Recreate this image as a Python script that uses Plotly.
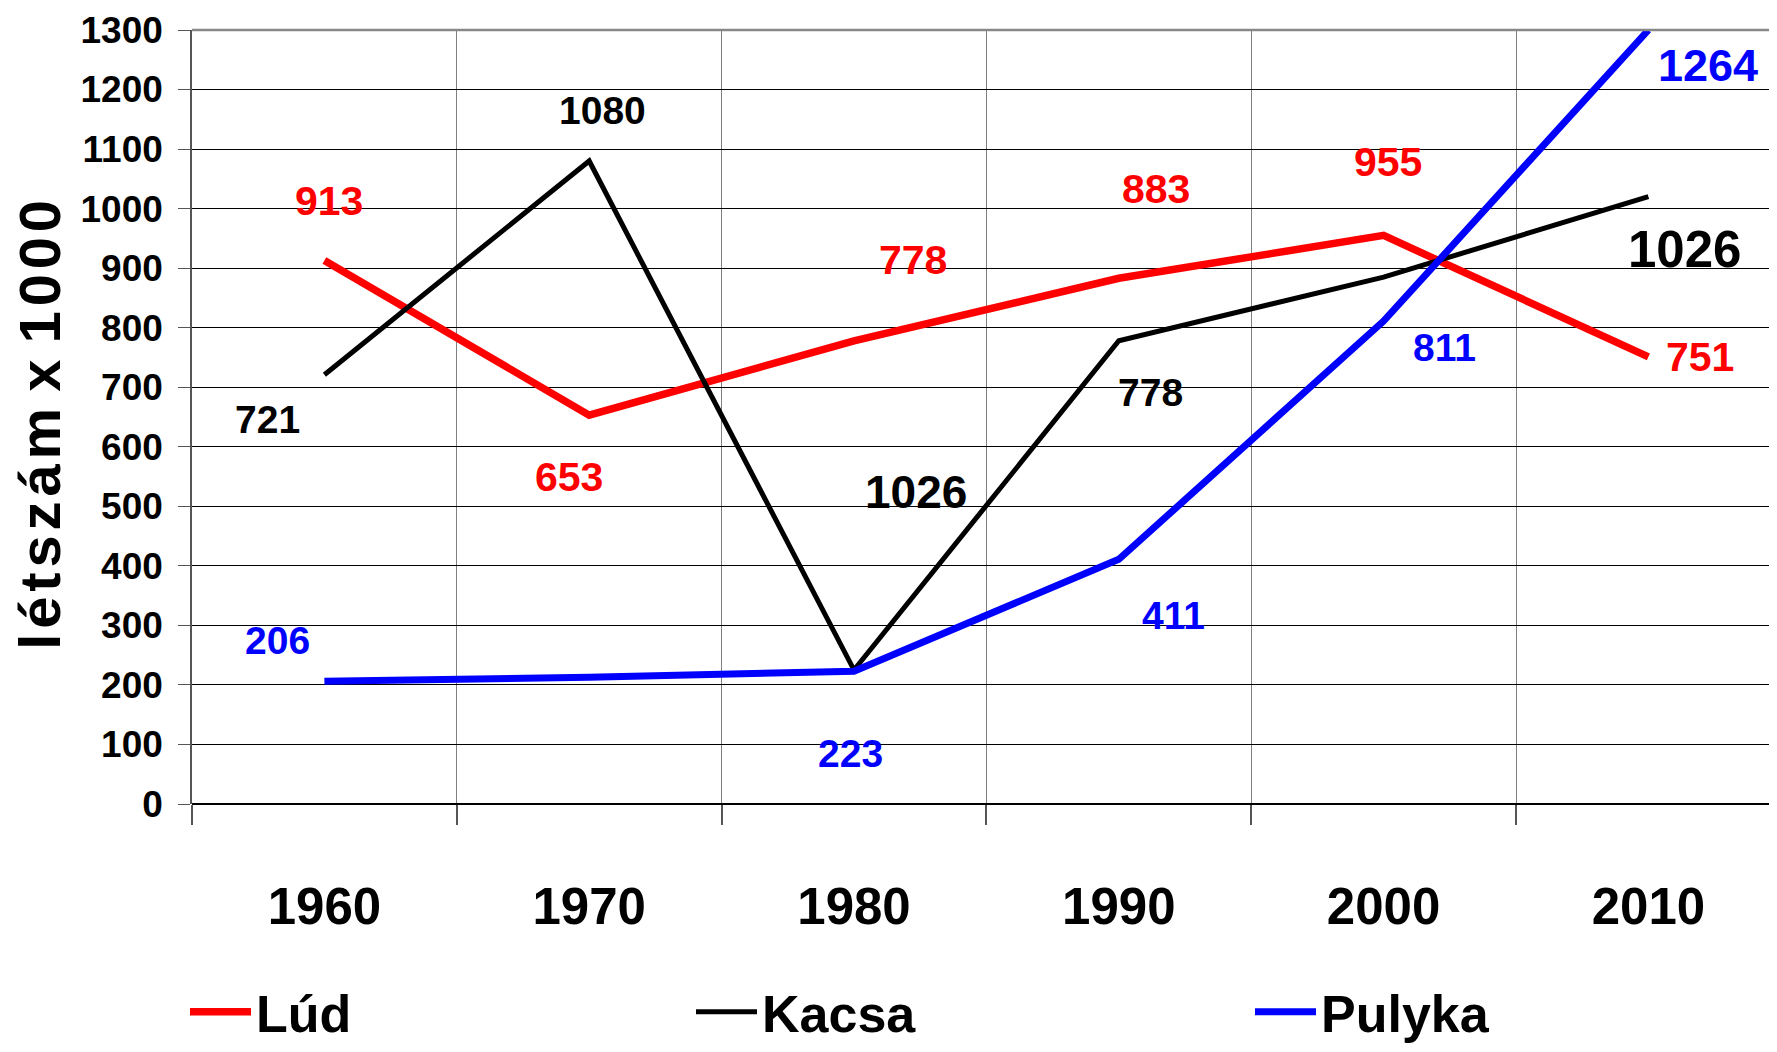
import plotly.graph_objects as go

years = ["1960", "1970", "1980", "1990", "2000", "2010"]
lud = [913, 653, 778, 883, 955, 751]
kacsa = [721, 1080, 225, 778, 885, 1020]
pulyka = [206, 213, 223, 411, 811, 1300]

lud_labels = ["913", "653", "778", "883", "955", "751"]
kacsa_labels = ["721", "1080", "1026", "778", None, "1026"]
pulyka_labels = ["206", None, "223", "411", "811", "1264"]

y_ticks = list(range(0, 1301, 100))

# label placement offsets in px (xshift, yshift) relative to their point
lud_off = [(5, 59), (-20, -62), (59, 81), (37, 89), (4, 73), (52, 0)]
kacsa_off = [(-57, -45), (13, 50), (62, 178), (32, -52), None, (36, -53)]
pulyka_off = [(-47, 41), None, (-4, -82), (55, -56), (61, -26), (60, -35)]

FONT = "Liberation Sans, Arial, sans-serif"

# page body has an 8px margin; size the figure so the plot lands where the reference has it
PAGE_PAD = 8
W, H = 1777 - PAGE_PAD, 1052 - PAGE_PAD
L, T = 192 - PAGE_PAD, 30 - PAGE_PAD
PH = 774
B = H - T - PH
xs = list(range(len(years)))

fig = go.Figure()
series = [
    ("Lúd", lud, "#ff0000", 7.5, "legend"),
    ("Kacsa", kacsa, "#000000", 5, "legend2"),
    ("Pulyka", pulyka, "#0000ff", 7, "legend3"),
]
for name, vals, col, w, lg in series:
    fig.add_trace(go.Scatter(x=xs, y=vals, mode="lines", name=name,
                             line=dict(color=col, width=w), legend=lg,
                             cliponaxis=False))

ann = []
def add_labels(vals, labels, offs, col, sizes):
    for i, (v, t, o) in enumerate(zip(vals, labels, offs)):
        if t is None:
            continue
        ann.append(dict(x=i, y=v, xref="x", yref="y", text=t,
                        showarrow=False, xshift=o[0], yshift=o[1],
                        font=dict(color=col, size=sizes[i], family=FONT, weight="bold")))

add_labels(lud, lud_labels, lud_off, "#ff0000", [41] * 6)
add_labels(pulyka, pulyka_labels, pulyka_off, "#0000ff", [39, 39, 39, 39, 39, 45])
add_labels(kacsa, kacsa_labels, kacsa_off, "#000000", [39, 39, 46, 39, 39, 51])

pw = W - L
ann.append(dict(xref="paper", yref="paper", x=(40 - 192) / pw, y=0.49,
                xanchor="center", yanchor="middle",
                text="l\u200aé\u200at\u200as\u200az\u200aá\u200am x 1\u200a0\u200a0\u200a0",
                textangle=-90, showarrow=False,
                font=dict(size=58, family=FONT, color="#000", weight="bold")))

cat_w = 264.8
span = pw / cat_w

legend_common = dict(orientation="h", yanchor="middle", xanchor="left",
                     xref="container", yref="container",
                     font=dict(size=52, family=FONT, color="#000", weight="bold"),
                     bgcolor="rgba(0,0,0,0)", itemwidth=61)
ly = 1 - (1012 - PAGE_PAD) / H

fig.update_layout(
    width=W, height=H, autosize=False,
    margin=dict(l=L, r=0, t=T, b=B, autoexpand=False),
    paper_bgcolor="white", plot_bgcolor="white",
    showlegend=True,
    legend=dict(legend_common, x=(185 - PAGE_PAD) / W, y=ly),
    legend2=dict(legend_common, x=(691 - PAGE_PAD) / W, y=ly),
    legend3=dict(legend_common, x=(1250 - PAGE_PAD) / W, y=ly),
    annotations=ann,
    xaxis=dict(range=[-0.5, -0.5 + span], tickvals=xs, ticktext=years,
               showgrid=False, zeroline=False, ticks="", automargin=False,
               tickfont=dict(size=51, family=FONT, color="#000", weight="bold"),
               ticklabelstandoff=68,
               showline=False,
               minor=dict(tickvals=[i - 0.5 for i in range(len(years))],
                          showgrid=True, gridcolor="#808080", gridwidth=1,
                          ticks="outside", ticklen=20, tickcolor="#555", tickwidth=1.5)),
    yaxis=dict(range=[0, 1300], tickvals=y_ticks, showgrid=True, automargin=False,
               gridcolor="#000", gridwidth=1, zeroline=True, zerolinecolor="#000",
               zerolinewidth=2,
               ticks="outside", ticklen=12, tickcolor="#555",
               showline=True, linecolor="#555", linewidth=1.5,
               tickfont=dict(size=37, family=FONT, color="#000", weight="bold"),
               ticklabelstandoff=8),
    shapes=[dict(type="line", xref="paper", yref="paper", x0=0, x1=1, y0=1, y1=1,
                 line=dict(color="#888", width=2.5))],
)

fig.write_html("out.html")
